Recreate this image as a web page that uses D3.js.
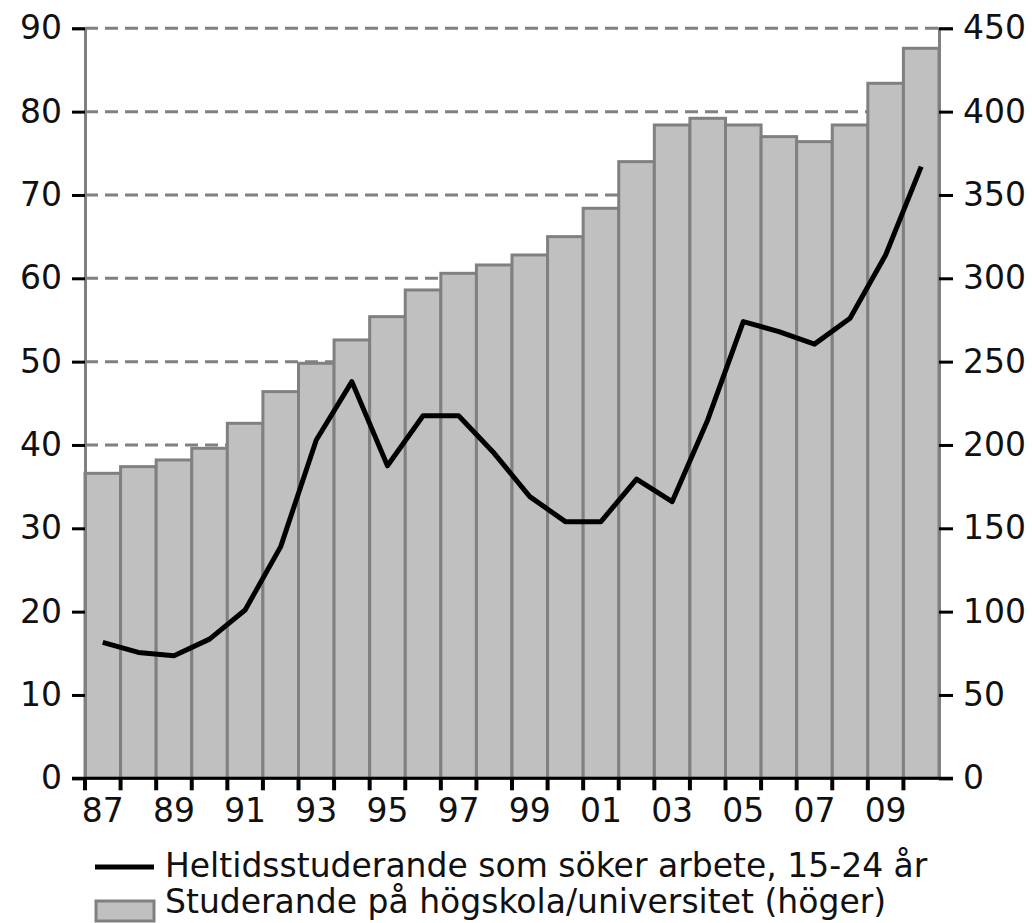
<!DOCTYPE html>
<html lang="sv">
<head>
<meta charset="utf-8">
<title>Studerande</title>
<script src="https://cdn.jsdelivr.net/npm/d3@7"></script>
<style>
  body { margin: 0; background: #fff; }
  text { font-family: "DejaVu Sans", Verdana, sans-serif; fill: #111; }
</style>
</head>
<body>
<div id="chart"></div>
<script>
var years = ["87","88","89","90","91","92","93","94","95","96","97","98","99","00","01","02","03","04","05","06","07","08","09","10"];
// Studerande på högskola/universitet (höger axel)
var studenter = [183, 187, 191, 198, 213, 232, 249, 263, 277, 293, 303, 308, 314, 325, 342, 370, 392, 396, 392, 385, 382, 392, 417, 438];
// Heltidsstuderande som söker arbete, 15-24 år (vänster axel)
var sokande = [16.3, 15.1, 14.7, 16.7, 20.2, 27.8, 40.6, 47.6, 37.5, 43.5, 43.5, 39.0, 33.8, 30.8, 30.8, 35.9, 33.2, 43.0, 54.8, 53.6, 52.1, 55.2, 62.8, 73.4];
var leftTicks = [0, 10, 20, 30, 40, 50, 60, 70, 80, 90];
var rightTicks = [0, 50, 100, 150, 200, 250, 300, 350, 400, 450];
var labelYears = ["87","89","91","93","95","97","99","01","03","05","07","09"];
var legendLabels = ["Heltidsstuderande som söker arbete, 15-24 år", "Studerande på högskola/universitet (höger)"];

var width = 1032, height = 923;
var mLeft = 85, mRight = 939, mTop = 28.3, mBottom = 778.3;

var svg = d3.select("#chart").append("svg")
    .attr("width", width)
    .attr("height", height);

var x = d3.scaleBand().domain(years).range([mLeft, mRight]).padding(0);
var yL = d3.scaleLinear().domain([0, 90]).range([mBottom, mTop]);
var yR = d3.scaleLinear().domain([0, 450]).range([mBottom, mTop]);

// dashed grid lines (behind bars)
svg.append("g").selectAll("line")
    .data(leftTicks.slice(1))
  .enter().append("line")
    .attr("x1", mLeft).attr("x2", mRight)
    .attr("y1", function(d) { return yL(d); })
    .attr("y2", function(d) { return yL(d); })
    .attr("stroke", "#808080")
    .attr("stroke-width", 3)
    .attr("stroke-dasharray", "13,7");

// bars
svg.append("g").selectAll("rect")
    .data(studenter)
  .enter().append("rect")
    .attr("x", function(d, i) { return x(years[i]); })
    .attr("y", function(d) { return yR(d); })
    .attr("width", x.bandwidth())
    .attr("height", function(d) { return mBottom - yR(d); })
    .attr("fill", "#c0c0c0")
    .attr("stroke", "#808080")
    .attr("stroke-width", 3);

// line
var line = d3.line()
    .x(function(d, i) { return x(years[i]) + x.bandwidth() / 2; })
    .y(function(d) { return yL(d); });

svg.append("path")
    .datum(sokande)
    .attr("d", line)
    .attr("fill", "none")
    .attr("stroke", "#000")
    .attr("stroke-width", 5)
    .attr("stroke-linejoin", "round");

// left axis
var axL = svg.append("g")
    .attr("transform", "translate(" + mLeft + ",0)")
    .call(d3.axisLeft(yL).tickValues(leftTicks).tickSize(13).tickPadding(10));
axL.select(".domain").attr("stroke", "#808080").attr("stroke-width", 3);
axL.selectAll(".tick line").attr("stroke", "#000").attr("stroke-width", 3);
axL.selectAll(".tick text").style("font-size", "33px").attr("fill", "#111");

// right axis
var axR = svg.append("g")
    .attr("transform", "translate(" + mRight + ",0)")
    .call(d3.axisRight(yR).tickValues(rightTicks).tickSize(14).tickPadding(10));
axR.select(".domain").attr("stroke", "#808080").attr("stroke-width", 3);
axR.selectAll(".tick line").attr("stroke", "#000").attr("stroke-width", 3);
axR.selectAll(".tick text").style("font-size", "33px").attr("fill", "#111");

// bottom axis: ticks at left edge of every bar, labels on odd years
var axB = svg.append("g")
    .attr("transform", "translate(0," + mBottom + ")");
axB.append("line")
    .attr("x1", mLeft - 13).attr("x2", mRight + 14)
    .attr("stroke", "#000").attr("stroke-width", 3);
axB.selectAll(".xt")
    .data(years)
  .enter().append("line")
    .attr("class", "xt")
    .attr("x1", function(d) { return x(d); })
    .attr("x2", function(d) { return x(d); })
    .attr("y1", 0).attr("y2", 12)
    .attr("stroke", "#000").attr("stroke-width", 4);
axB.selectAll(".xl")
    .data(labelYears)
  .enter().append("text")
    .attr("class", "xl")
    .attr("x", function(d) { return x(d) + x.bandwidth() / 2; })
    .attr("y", 44)
    .attr("text-anchor", "middle")
    .style("font-size", "33px")
    .text(function(d) { return d; });

// legend
var lg = svg.append("g");
lg.append("line")
    .attr("x1", 95).attr("x2", 154)
    .attr("y1", 867).attr("y2", 867)
    .attr("stroke", "#000").attr("stroke-width", 5);
lg.append("text")
    .attr("x", 165).attr("y", 877)
    .style("font-size", "33px")
    .text(legendLabels[0]);
lg.append("rect")
    .attr("x", 96).attr("y", 901)
    .attr("width", 58).attr("height", 20)
    .attr("fill", "#c0c0c0")
    .attr("stroke", "#808080")
    .attr("stroke-width", 3);
lg.append("text")
    .attr("x", 165).attr("y", 913)
    .style("font-size", "33px")
    .text(legendLabels[1]);
</script>
</body>
</html>
